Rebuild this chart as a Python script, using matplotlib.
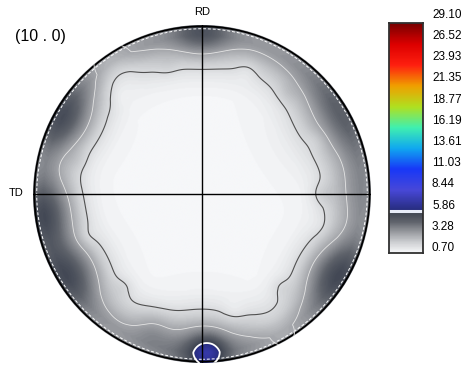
import matplotlib
matplotlib.use('Agg')
import matplotlib.pyplot as plt
import numpy as np
from matplotlib.colors import LinearSegmentedColormap, Normalize
from matplotlib.patches import Circle

plt.rcParams['font.family'] = ['Liberation Sans', 'DejaVu Sans']

title = '(10 . 0)'
cbar_ticks = [0.70, 3.28, 5.86, 8.44, 11.03, 13.61, 16.19, 18.77, 21.35, 23.93, 26.52, 29.10]

# radial background profile of the ring (r / R, intensity)
ring_r = [0.0, 0.58, 0.66, 0.72, 0.78, 0.84, 0.89, 0.94, 1.0]
ring_v = [0.75, 0.80, 0.95, 1.22, 1.68, 2.25, 2.85, 3.30, 3.25]

# intensity maxima / minima: azimuth (deg, from TD anticlockwise), r / R, height, width
peak_azimuth = [272, 270, 90, 151, 188, 211, 329, 30, 250, 125, 300, 0, 178]
peak_radius = [0.945, 0.90, 0.98, 0.93, 0.93, 0.90, 0.92, 0.93, 0.84, 0.88, 0.90, 0.84, 0.84]
peak_height = [2.3, 1.6, 1.9, 2.1, 2.1, 2.3, 2.3, 1.4, 0.8, -0.9, -0.5, 0.5, 0.3]
peak_width = [0.07, 0.15, 0.12, 0.14, 0.13, 0.14, 0.14, 0.20, 0.08, 0.10, 0.10, 0.12, 0.10]

# small wiggles on the inner edge of the ring: azimuth (deg), r / R, height
wiggle_azimuth = [0, 25, 50, 70, 105, 130, 165, 200, 230, 285, 310, 345]
wiggle_radius = [0.71, 0.75, 0.78, 0.78, 0.78, 0.76, 0.76, 0.73, 0.72, 0.72, 0.72, 0.72]
wiggle_height = [0.45, -0.25, 0.25, -0.30, 0.20, -0.20, 0.25, -0.30, 0.35, -0.25, 0.35, -0.15]

contour_levels = [1.6, 3.0, 5.86]
contour_colors = ['#505050', '#e4e4e4', 'white']

cmap_vals = [0.70, 2.0, 3.28, 4.5, 5.86, 5.87, 8.44, 11.03, 13.61, 16.19, 18.77, 21.35, 23.93, 26.52, 29.10]
cmap_cols = ['#f6f7f9', '#cbcdd0', '#96989d', '#5f636b', '#393f4d', '#262c7c', '#4848d8', '#1838f8',
             '#10a8f0', '#40f0b0', '#b0e020', '#f0a000', '#ff2010', '#dd0000', '#7a0000']


def gauss(x, y, az, pr, h, w):
    px = pr * np.cos(np.radians(az))
    py = pr * np.sin(np.radians(az))
    return h * np.exp(-((x - px) ** 2 + (y - py) ** 2) / (2 * w ** 2))


def build_field(n=500):
    g = np.linspace(-1, 1, n)
    x, y = np.meshgrid(g, g)
    r = np.hypot(x, y)
    f = np.interp(r, ring_r, ring_v)
    for az, pr, h, w in zip(peak_azimuth, peak_radius, peak_height, peak_width):
        f = f + gauss(x, y, az, pr, h, w)
    for az, pr, h in zip(wiggle_azimuth, wiggle_radius, wiggle_height):
        f = f + gauss(x, y, az, pr, h, 0.045)
    return g, f


vmin, vmax = cbar_ticks[0], cbar_ticks[-1]
norm = Normalize(vmin, vmax)
cmap = LinearSegmentedColormap.from_list(
    'pf', [((v - vmin) / (vmax - vmin), c) for v, c in zip(cmap_vals, cmap_cols)])

fig = plt.figure(figsize=(4.7, 3.65), dpi=100)
W, H = 470., 365.
cx, cy, R = 202., 194., 169.
ax = fig.add_axes([(cx - R) / W, (H - cy - R) / H, 2 * R / W, 2 * R / H])
ax.set_xlim(-1, 1)
ax.set_ylim(-1, 1)
ax.axis('off')

g, field = build_field()
clip = Circle((0, 0), 1.0, transform=ax.transData)
im = ax.imshow(field, extent=(-1, 1, -1, 1), origin='lower', cmap=cmap, norm=norm,
               interpolation='bilinear')
im.set_clip_path(clip)
cs = ax.contour(g, g, field, levels=contour_levels, colors=contour_colors, linewidths=[0.8, 0.6, 1.3])
cs.set_clip_path(clip)

# rim and reference axes
ax.add_patch(Circle((0, 0), 0.992, fill=False, ec='black', lw=1.3))
ax.add_patch(Circle((0, 0), 0.978, fill=False, ec='white', lw=0.7, ls=(0, (3, 2))))
ax.plot([-1, 1], [0, 0], color='black', lw=1.0)
ax.plot([0, 0], [-1, 1], color='black', lw=1.0)

fig.text(15 / W, 1 - 36 / H, title, fontsize=11.5, va='center', ha='left')
fig.text(cx / W, 1 - 12 / H, 'RD', fontsize=8, va='center', ha='center')
fig.text(16 / W, 1 - 193 / H, 'TD', fontsize=8, va='center', ha='center')

# colour bar
cax = fig.add_axes([389 / W, (H - 253) / H, 34 / W, 230 / H])
grad = np.linspace(vmin, vmax, 400).reshape(-1, 1)
cax.imshow(grad, extent=(0, 1, vmin, vmax), origin='lower', aspect='auto', cmap=cmap, norm=norm)
cax.axhline(cbar_ticks[2], color='#e8ecf8', lw=2.2)
cax.set_xticks([])
cax.set_yticks([])
for s in cax.spines.values():
    s.set_color('#303030')
    s.set_linewidth(1.3)
for i, t in enumerate(cbar_ticks):
    ypx = 248 - i * 21.2
    fig.text(432 / W, 1 - ypx / H, '%.2f' % t, fontsize=8.5, va='center', ha='left')

fig.savefig('out.png', dpi=100)
